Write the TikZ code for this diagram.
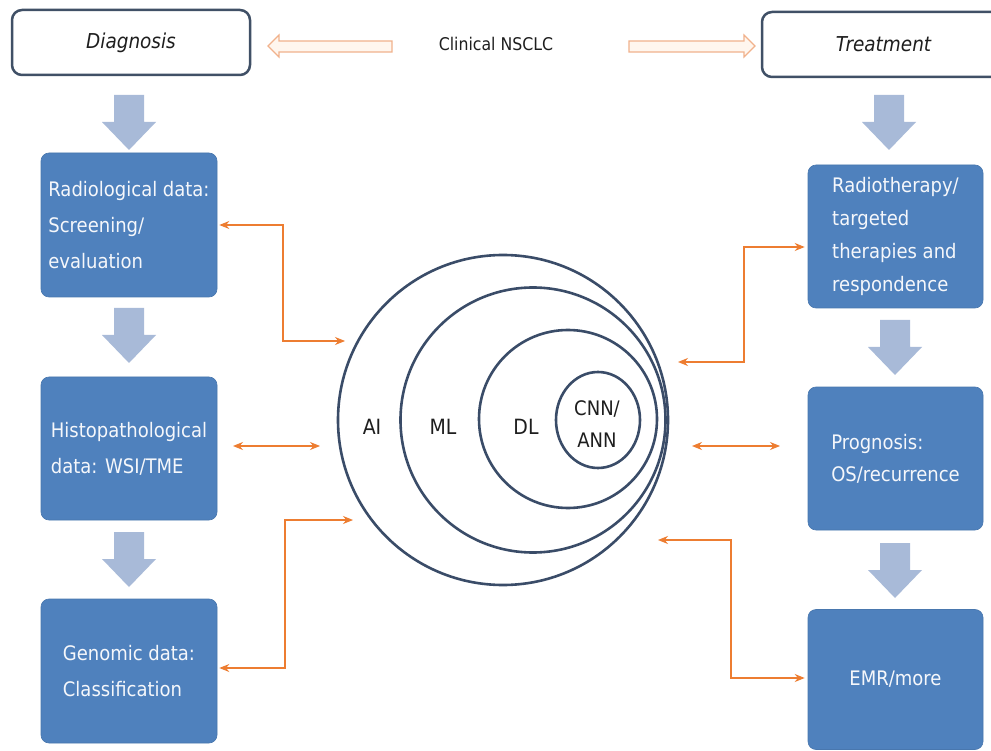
\documentclass[tikz,border=0pt]{standalone}
\usepackage{fontspec}
\setmainfont{DejaVu Sans Condensed}
\usetikzlibrary{arrows.meta,shapes.geometric}

\definecolor{boxblue}{RGB}{79,129,189}
\definecolor{arrowblue}{RGB}{168,186,216}
\definecolor{ringline}{RGB}{58,76,104}
\definecolor{frameline}{RGB}{64,80,102}
\definecolor{linkorange}{RGB}{237,125,49}
\definecolor{hollowline}{RGB}{241,178,140}
\definecolor{hollowfill}{RGB}{255,246,238}
\definecolor{textdark}{RGB}{30,30,30}

\begin{document}
\begin{tikzpicture}[x=1pt,y=-1pt,
  bluebox/.style={draw=boxblue!92!black, line width=0.6pt, fill=boxblue,
    rounded corners=8pt, minimum width=176pt, minimum height=144pt,
    text=white!94!boxblue, align=left, inner sep=0pt,
    font=\fontsize{20}{36}\selectfont},
  framebox/.style={draw=frameline, line width=2.5pt, fill=white,
    rounded corners=10pt, inner sep=0pt, text=textdark,
    font=\fontsize{20.5}{24}\selectfont\itshape},
  ring/.style={draw=ringline, line width=2.6pt, circle, inner sep=0pt},
  ringlabel/.style={text=textdark, align=center, inner sep=0pt,
    font=\fontsize{21}{32}\selectfont},
  conn/.style={draw=linkorange, line width=1.1pt,
    {Stealth[length=10pt,width=8pt]}-{Stealth[length=10pt,width=8pt]}},
  hollow/.style={draw=hollowline, fill=hollowfill, line width=1.1pt},
  downarr/.pic={\fill[arrowblue] (-15,0) -- (15,0) -- (15,27) -- (27,27)
    -- (0,55) -- (-27,27) -- (-15,27) -- cycle;},
]
\clip (0,0) rectangle (991,751);
\fill[white] (0,0) rectangle (991,751);

% header row
\node[framebox, minimum width=238pt, minimum height=65pt] (diag) at (131,42.5) {Diagnosis};
\node[framebox, minimum width=243pt, minimum height=65pt] (treat) at (883.5,44.5) {Treatment};
\node[text=textdark, font=\fontsize{17.5}{20}\selectfont, inner sep=0pt] (nsclc) at (496,44) {Clinical NSCLC};

% hollow arrows from the title outwards
\draw[hollow] (268,46) -- (279,35) -- (279,41) -- (392,41) -- (392,52)
  -- (279,52) -- (279,57) -- cycle;
\draw[hollow] (755,46) -- (744,35) -- (744,41) -- (629,41) -- (629,52)
  -- (744,52) -- (744,57) -- cycle;

% diagnosis column
\node[bluebox] (rad) at (129,225) {Radiological data:\\Screening/\\evaluation};
\node[bluebox, minimum height=143pt] (histo) at (129,448.5) {Histopathological\\data: WSI/TME};
\node[bluebox] (geno) at (129,671) {Genomic data:\\Classification};

% treatment column
\node[bluebox, minimum width=175pt, minimum height=143pt,
  font=\fontsize{20}{33}\selectfont] (radio) at (895.5,236.5)
  {Radiotherapy/\\targeted\\therapies and\\respondence};
\node[bluebox, minimum width=175pt, minimum height=143pt,
  font=\fontsize{20}{32}\selectfont] (prog) at (895.5,458.5)
  {Prognosis:\\OS/recurrence};
\node[bluebox, minimum width=175pt, minimum height=140pt] (emr) at (895.5,679.5) {EMR/more};

% block arrows down each column
\pic at (129,95) {downarr};
\pic at (129,308) {downarr};
\pic at (129,532) {downarr};
\pic at (889,95) {downarr};
\pic at (895,320) {downarr};
\pic at (895,543) {downarr};

% nested fields
\node[ring, minimum size=330pt] (ai) at (503,420) {};
\node[ring, minimum size=265pt] (ml) at (533,420) {};
\node[ring, minimum size=178pt] (dl) at (568,419) {};
\node[ring, ellipse, minimum width=84pt, minimum height=96pt] (cnn) at (598,420) {};

\node[ringlabel] (lai) at (372,427) {AI};
\node[ringlabel] (lml) at (443,427) {ML};
\node[ringlabel] (ldl) at (526,427) {DL};
\node[ringlabel, font=\fontsize{20}{32}\selectfont] (lcnn) at (597,424) {CNN/\\ANN};

% links between the data sources and the nested fields
\coordinate (a1) at (345,341);
\coordinate (a2a) at (233,446);
\coordinate (a2b) at (320,446);
\coordinate (a3) at (353,520);
\coordinate (b1) at (678,362);
\coordinate (b2a) at (692,446);
\coordinate (b2b) at (780,446);
\coordinate (b3) at (658,540);

\draw[conn] ([xshift=2pt]rad.east) -- (283,225) -- (283,341) -- (a1);
\draw[conn] (a2a) -- (a2b);
\draw[conn] ([xshift=2pt,yshift=3pt]geno.east) -- (285,668) -- (285,520) -- (a3);
\draw[conn] (b1) -- (744,362) -- (744,247) -- ([xshift=-3pt]radio.west |- 0,247);
\draw[conn] (b2a) -- (b2b);
\draw[conn] (b3) -- (731,540) -- (731,678) -- ([xshift=-3pt]emr.west |- 0,678);
\end{tikzpicture}
\end{document}
